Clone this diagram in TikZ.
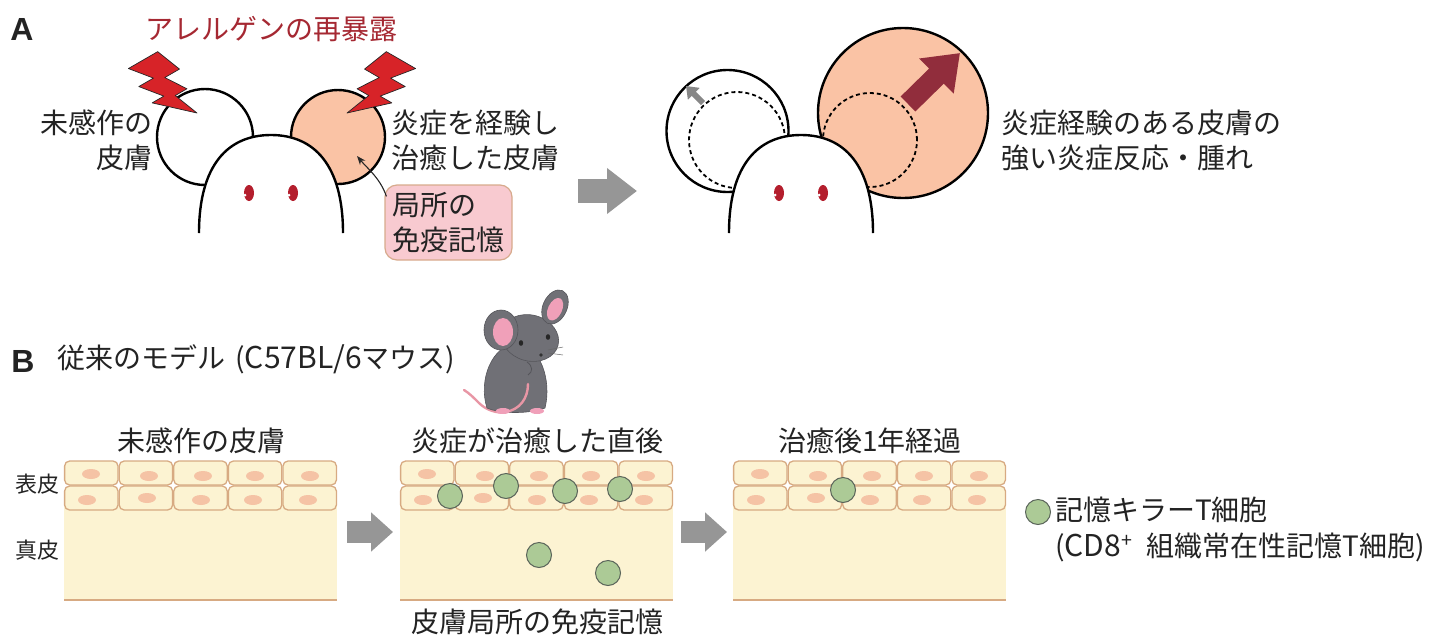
\documentclass[tikz,border=0pt]{standalone}
\usepackage{fontspec}
\setmainfont{Noto Sans CJK JP}
\newfontfamily\labfont{Liberation Sans}
\usetikzlibrary{arrows.meta}

\definecolor{txtgray}{RGB}{35,35,35}
\definecolor{allergred}{RGB}{165,40,50}
\definecolor{boltred}{RGB}{215,35,40}
\definecolor{peach}{RGB}{250,195,165}
\definecolor{boxpink}{RGB}{248,202,208}
\definecolor{boxedge}{RGB}{215,170,140}
\definecolor{eyered}{RGB}{180,30,45}
\definecolor{arrowgray}{RGB}{150,150,150}
\definecolor{swellred}{RGB}{145,45,60}
\definecolor{cellfill}{RGB}{252,243,210}
\definecolor{celledge}{RGB}{215,170,130}
\definecolor{nucleus}{RGB}{245,195,165}
\definecolor{tgreen}{RGB}{172,202,150}
\definecolor{tedge}{RGB}{90,100,90}
\definecolor{mousegray}{RGB}{112,112,118}
\definecolor{mouseedge}{RGB}{85,85,90}
\definecolor{earpink}{RGB}{240,160,185}
\definecolor{tailpink}{RGB}{232,150,165}

\begin{document}
\begin{tikzpicture}[x=1pt,y=-1pt,
  txt/.style={font=\fontsize{28}{35}\selectfont, text=txtgray, inner sep=0pt},
  smalltxt/.style={font=\fontsize{22}{26}\selectfont, text=txtgray, inner sep=0pt},
  panel/.style={font=\labfont\bfseries\fontsize{32}{36}\selectfont, text=txtgray, inner sep=0pt},
  earline/.style={draw=black, line width=2.4pt},
  dashring/.style={draw=black, line width=1.8pt, dash pattern=on 4pt off 3pt},
  bolt/.style={fill=boltred, draw=black!85, line width=0.7pt, line join=round},
  cellbox/.style={draw=celledge, fill=cellfill, line width=1.3pt, rounded corners=5pt},
  nuc/.style={fill=nucleus},
  tcell/.style={circle, minimum size=25pt, inner sep=0pt, fill=tgreen, draw=tedge, line width=1pt},
  bigarrow/.style={draw=arrowgray, -{Triangle[length=30pt,width=44pt]}, line width=24pt},
  midarrow/.style={draw=arrowgray, -{Triangle[length=22pt,width=38pt]}, line width=22pt},
  mousehead/.pic={
    \draw[line width=2.4pt, fill=white] (-72,98) .. controls (-72,30) and (-43,0) .. (0,0)
      .. controls (43,0) and (72,30) .. (72,98);
    \fill[eyered] (-22,58) ellipse[x radius=5pt, y radius=8pt];
    \fill[eyered] (22,58) ellipse[x radius=5pt, y radius=8pt];
    \fill[white] (-26,60) circle[radius=1.5pt];
    \fill[white] (18,60) circle[radius=1.5pt];
  },
  boltshape/.pic={
    \path[bolt] (1,-28) -- (11,-28) -- (6,-20) -- (11,-20) -- (6,-12) -- (10,-12) -- (0,0)
      -- (3,-10) -- (-1,-10) -- (3,-18) -- (-2,-18) -- cycle;
  },
  skinblock/.pic={
    \fill[cellfill] (0,37) rectangle (273,139);
    \draw[celledge, line width=2.5pt] (0,139) -- (273,139);
    \foreach \i in {0,...,4} {
      \path[cellbox] ({\i*54.6+0.6},0) rectangle ++(53.4,24);
      \path[cellbox] ({\i*54.6+0.6},25) rectangle ++(53.4,24);
    }
    \foreach \x/\y in {27/13,85/15,139/15,191/15,246/15,23/39,83/37,137/39,189/39,244/39}
      \fill[nuc] (\x,\y) ellipse[x radius=9pt, y radius=5pt];
  },
]
\useasboundingbox (0,0) rectangle (1451,635);

% ---------- Panel A, before re-exposure ----------
\node[panel] (labA) at (22,29) {A};
\node[txt, text=allergred] (reexp) at (271,29) {アレルゲンの再暴露};

\draw[earline, fill=white] (205,137) circle[radius=48pt];
\draw[earline, fill=peach] (338,137) circle[radius=47pt];
\pic at (271,135) {mousehead};

\pic[shift={(197,113)}, rotate=30, xscale=-1.3, scale=2.6] {boltshape};
\pic[shift={(347,113)}, rotate=-30, xscale=1.3, scale=2.6] {boltshape};

\node[txt, anchor=east, align=right] (naive) at (153,140.5) {未感作の\\皮膚};
\node[txt, anchor=west, align=left] (healed) at (391,140.5) {炎症を経験し\\治癒した皮膚};
\node[txt, align=left, fill=boxpink, draw=boxedge, line width=1.2pt, rounded corners=12pt,
      minimum width=127pt, minimum height=75pt, inner xsep=7pt] (memo) at (448.5,222.5)
      {局所の\\免疫記憶};
\coordinate (memtip) at (357,156);
\draw[-{Stealth[length=9pt,width=7pt]}, line width=1.1pt, black!85]
  ([shift={(2,12)}]memo.north west) .. controls +(-6,-18) and +(10,12) .. (memtip);

% arrow between the two states
\coordinate (a1) at (578,191);
\coordinate (a2) at (637,191);
\draw[bigarrow] (a1) -- (a2);

% ---------- Panel A, after re-exposure ----------
\draw[earline, fill=white] (727.5,131) circle[radius=61pt];
\draw[dashring] (737,140) circle[radius=48pt];
\draw[earline, fill=peach] (903,113) circle[radius=85pt];
\draw[dashring] (870,140) circle[radius=47pt];
\coordinate (g1) at (703,103);
\coordinate (g2) at (686,86);
\draw[draw=arrowgray!90!black, -{Triangle[length=11pt,width=16pt]}, line width=6pt] (g1) -- (g2);
\coordinate (r1) at (908,104);
\coordinate (r2) at (960,53);
\draw[draw=swellred, -{Triangle[length=33pt,width=47pt]}, line width=21pt] (r1) -- (r2);
\pic at (801,135) {mousehead};

\node[txt, anchor=west, align=left] (strong) at (1001,140.5) {炎症経験のある皮膚の\\強い炎症反応・腫れ};

% ---------- Panel B ----------
\node[panel] (labB) at (23,361) {B};
\node[txt, anchor=west] (model) at (57,359)
  {従来のモデル\hspace{4pt} ({\fontsize{30}{35}\selectfont C57BL/6}マウス)};

% mouse
\draw[tailpink, line width=2.4pt, line cap=round] (526,386) .. controls (522,420) and (492,416) .. (479,403)
  .. controls (473,397) and (469,393) .. (464,390);
\fill[mousegray, draw=mouseedge, line width=0.6pt] (487,408) .. controls (478,380) and (492,345) .. (517,343)
  .. controls (540,345) and (552,380) .. (545,408) .. controls (530,414) and (500,414) .. cycle;
\draw[tailpink, line width=2.4pt, line cap=round] (528,384) .. controls (528,398) and (520,410) .. (505,412);
\fill[earpink] (503,411) ellipse[x radius=7pt, y radius=3pt];
\fill[earpink] (537,411) ellipse[x radius=7pt, y radius=3pt];
\fill[mousegray, draw=mouseedge, line width=0.6pt, rotate around={-15:(530,338)}] (530,338) ellipse[x radius=29pt, y radius=23pt];
\fill[mousegray, draw=mouseedge, line width=0.6pt] (501,330) ellipse[x radius=17pt, y radius=20pt];
\fill[earpink] (503,332) ellipse[x radius=10pt, y radius=14pt];
\fill[mousegray, draw=mouseedge, line width=0.6pt, rotate around={-25:(555,307)}] (555,307) ellipse[x radius=12pt, y radius=18pt];
\fill[earpink, rotate around={-25:(555,307)}] (556,309) ellipse[x radius=7pt, y radius=12pt];
\fill[black!85] (521,343) ellipse[x radius=2.2pt, y radius=2.8pt];
\fill[black!85] (548,337) ellipse[x radius=2.2pt, y radius=2.8pt];
\fill[black!80] (541,355) circle[radius=1.8pt];
\draw[black!60, line width=0.5pt] (548,350) -- (563,347) (548,353) -- (563,355);
\draw[mouseedge, line width=0.8pt] (527,362) .. controls (533,366) and (533,372) .. (528,375);

% skin sections
\node[txt] (t1) at (201,441) {未感作の皮膚};
\node[txt] (t2) at (537,441) {炎症が治癒した直後};
\node[txt] (t3) at (870,441) {治癒後1年経過};
\node[smalltxt] (epi) at (38,484) {表皮};
\node[smalltxt] (derm) at (38,550) {真皮};

\pic at (64,461) {skinblock};
\pic at (400,461) {skinblock};
\pic at (733,461) {skinblock};

\coordinate (b1s) at (347,532);
\coordinate (b1e) at (393,532);
\coordinate (b2s) at (681,532);
\coordinate (b2e) at (727,532);
\draw[midarrow] (b1s) -- (b1e);
\draw[midarrow] (b2s) -- (b2e);

% resident memory T cells
\node[tcell] (c1) at (450,496) {};
\node[tcell] (c2) at (506,486) {};
\node[tcell] (c3) at (565,491) {};
\node[tcell] (c4) at (620,489) {};
\node[tcell] (c5) at (539,555) {};
\node[tcell] (c6) at (608,573) {};
\node[tcell] (c7) at (843,490) {};

\node[txt] (local) at (537,622) {皮膚局所の免疫記憶};

% legend
\node[tcell] (legcell) at (1038,512) {};
\node[txt, anchor=west] (leg1) at (1055,510) {記憶キラーT細胞};
\node[txt, anchor=west] (leg2) at (1055,547)
  {({\fontsize{30}{35}\selectfont CD8}\textsuperscript{+}\hspace{8pt} 組織常在性記憶T細胞)};
\end{tikzpicture}
\end{document}
